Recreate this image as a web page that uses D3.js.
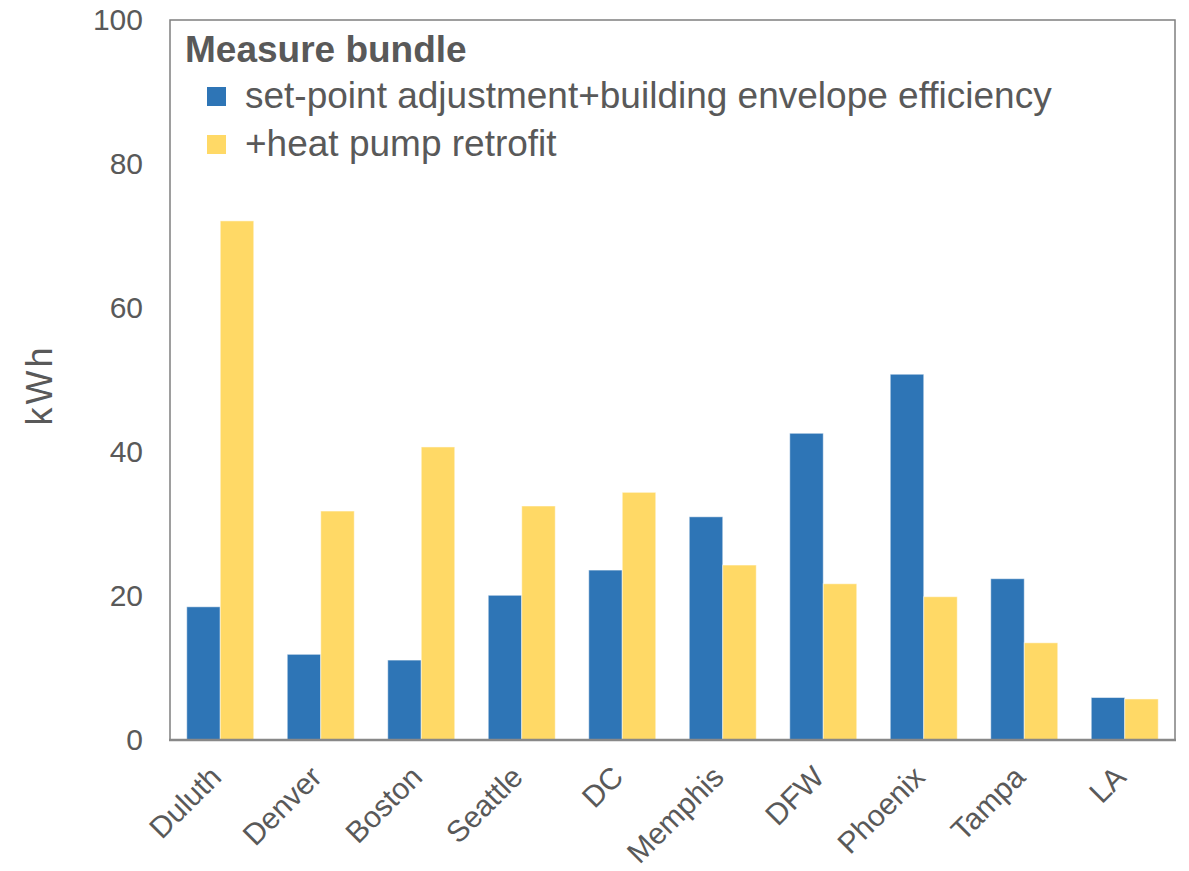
<!DOCTYPE html>
<html>
<head>
<meta charset="utf-8">
<script src="https://cdn.jsdelivr.net/npm/d3@7"></script>
<style>
  body { margin: 0; background: #fff; }
  text { font-family: "Liberation Sans", Arial, sans-serif; fill: #595959; }
</style>
</head>
<body>
<div id="chart"></div>
<script>
/** chart data */
const cities = ['Duluth', 'Denver', 'Boston', 'Seattle', 'DC', 'Memphis', 'DFW', 'Phoenix', 'Tampa', 'LA'];
const setpointEnvelope = [18.5, 11.9, 11.1, 20.1, 23.6, 31.0, 42.6, 50.8, 22.4, 5.9];
const heatPump = [72.1, 31.8, 40.7, 32.5, 34.4, 24.3, 21.7, 19.9, 13.5, 5.7];
const seriesNames = ['set-point adjustment+building envelope efficiency', '+heat pump retrofit'];
const seriesColors = ['#2E75B6', '#FFD966'];
const yTicks = [0, 20, 40, 60, 80, 100];

/** canvas */
let width = 1189, height = 871;
let margin = { top: 20, right: 14, bottom: 131, left: 170 };
let draw_width = width - margin.left - margin.right;
let draw_height = height - margin.top - margin.bottom;

let svg = d3.select('#chart').append('svg')
    .attr('width', width)
    .attr('height', height);

let canvas = svg.append('g')
    .attr('transform', `translate(${margin.left}, ${margin.top})`);

/** scales */
let xScale = d3.scaleBand()
    .domain(cities)
    .range([0, draw_width])
    .paddingInner(1 / 3)
    .paddingOuter(1 / 6);

let xSub = d3.scaleBand()
    .domain([0, 1])
    .range([0, xScale.bandwidth()]);

let yScale = d3.scaleLinear()
    .domain([0, 100])
    .range([draw_height, 0]);

/** bars */
let rows = cities.map((c, i) => ({ city: c, values: [setpointEnvelope[i], heatPump[i]] }));

let groups = canvas.selectAll('.group')
    .data(rows)
    .enter()
    .append('g')
    .attr('class', 'group')
    .attr('transform', d => `translate(${xScale(d.city)}, 0)`);

groups.selectAll('rect')
    .data(d => d.values.map((v, k) => ({ v: v, k: k })))
    .enter()
    .append('rect')
    .attr('x', d => xSub(d.k))
    .attr('y', d => yScale(d.v))
    .attr('width', xSub.bandwidth())
    .attr('height', d => draw_height - yScale(d.v))
    .attr('fill', d => seriesColors[d.k])
    .attr('stroke', '#ffffff')
    .attr('stroke-opacity', 0.5)
    .attr('stroke-width', 1);

/** frame */
canvas.append('rect')
    .attr('x', 0)
    .attr('y', 0)
    .attr('width', draw_width)
    .attr('height', draw_height)
    .attr('fill', 'none')
    .attr('stroke', '#7f7f7f')
    .attr('stroke-width', 1.5);

canvas.append('line')
    .attr('x1', -1)
    .attr('x2', draw_width + 1)
    .attr('y1', draw_height)
    .attr('y2', draw_height)
    .attr('stroke', '#888888')
    .attr('stroke-width', 2.5);

/** y axis */
let yAxis = d3.axisLeft(yScale)
    .tickValues(yTicks)
    .tickSize(0)
    .tickPadding(27);

let yG = canvas.append('g').call(yAxis);
yG.select('.domain').remove();
yG.selectAll('text')
    .style('font-size', '30px')
    .attr('fill', '#595959');

/** x axis labels */
let xAxis = d3.axisBottom(xScale).tickSize(0).tickFormat('');
let xG = canvas.append('g')
    .attr('transform', `translate(0, ${draw_height})`)
    .call(xAxis);
xG.select('.domain').remove();

canvas.selectAll('.xlabel')
    .data(cities)
    .enter()
    .append('text')
    .attr('class', 'xlabel')
    .attr('transform', d => `translate(${xScale(d) + xScale.bandwidth() / 2 - 12}, ${draw_height + 24}) rotate(-45)`)
    .attr('text-anchor', 'end')
    .attr('dy', '0.7em')
    .style('font-size', '30px')
    .text(d => d);

/** y title */
svg.append('text')
    .attr('transform', `translate(52, 385) rotate(-90)`)
    .attr('text-anchor', 'middle')
    .style('font-size', '36px')
    .style('letter-spacing', '3px')
    .text('kWh');

/** legend */
let legend = canvas.append('g').attr('transform', 'translate(15, 0)');

legend.append('text')
    .attr('x', 0)
    .attr('y', 42)
    .style('font-size', '37px')
    .style('font-weight', 'bold')
    .text('Measure bundle');

seriesNames.forEach((name, i) => {
    let row = legend.append('g').attr('transform', `translate(22, ${67 + i * 48})`);
    row.append('rect')
        .attr('width', 19)
        .attr('height', 19)
        .attr('fill', seriesColors[i]);
    row.append('text')
        .attr('x', 38)
        .attr('y', 21)
        .style('font-size', '37px')
        .text(name);
});
</script>
</body>
</html>
